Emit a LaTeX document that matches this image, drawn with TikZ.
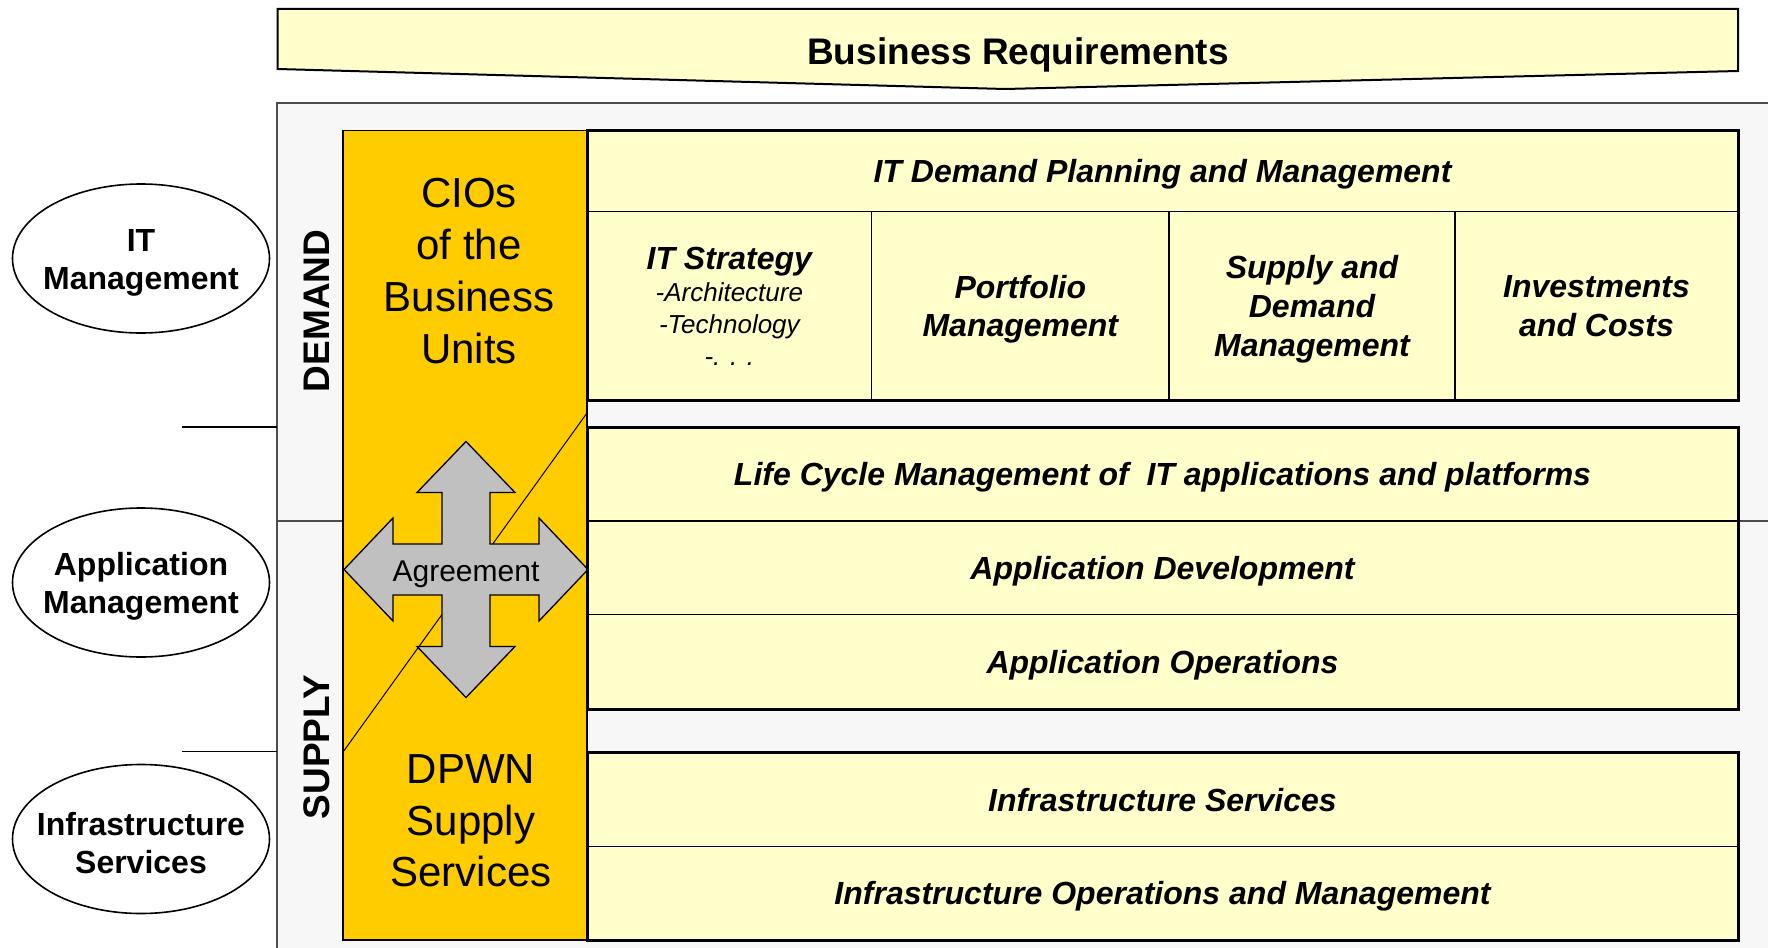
\documentclass[tikz,border=0pt]{standalone}
\usepackage{fontspec}
\setmainfont{Liberation Sans}
\definecolor{paleyellow}{HTML}{FFFFCC}
\definecolor{gold}{HTML}{FFCC00}
\definecolor{panelgray}{HTML}{F7F7F7}
\definecolor{arrowgray}{HTML}{C0C0C0}
\begin{document}
\begin{tikzpicture}[x=1pt, y=-1pt, line join=miter,
  cell/.style={draw, fill=paleyellow, line width=1.3pt, inner sep=0pt},
  lbl/.style={font=\fontsize{32}{38.6}\selectfont\bfseries\itshape, align=center, text depth=0pt},
  unittext/.style={font=\fontsize{32}{38}\selectfont\bfseries, align=center},
  unit/.style={draw, line width=1.6pt, fill=white},
  side/.style={rotate=90, font=\fontsize{37}{40}\selectfont\bfseries},
  frame/.style={draw, line width=3pt},
  panel/.style={fill=panelgray, draw=black!70, line width=1.3pt}]
\useasboundingbox (0,0) rectangle (1768,947);
\fill[white] (0,0) rectangle (1768,947);
\clip (0,0) rectangle (1768,947);
% demand / supply panels
\draw[panel] (277,103) rectangle (1800,521);
\draw[panel] (277,521) rectangle (1800,990);
\coordinate (l1) at (182,427);
\coordinate (l2) at (182,751.6);
\draw[line width=1.3pt] (l1) -- ++(95,0);
\draw[line width=1.3pt] (l2) -- ++(95,0);
% business requirements banner
\draw[fill=paleyellow, line width=2pt] (277.6,9) -- (1738,9) -- (1738,71) -- (1005,89) -- (277.6,69) -- cycle;
\node[font=\fontsize{37}{40}\selectfont\bfseries] (req) at (1018,54.5) {Business Requirements};
% management units
\coordinate (itc) at (141,258.5);
\coordinate (apc) at (141,582.5);
\coordinate (inc) at (141,839);
\foreach \c in {itc,apc,inc}
  \draw[unit] (\c) ellipse [x radius=128.5, y radius=74.5];
\node[unittext] (itm) at (141,262.5) {IT\\Management};
\node[unittext] (apm) at (141,586.5) {Application\\Management};
\node[unittext] (ins) at (141,843) {Infrastructure\\Services};
\node[side] (dem) at (317,311) {DEMAND};
\node[side] (sup) at (317,747) {SUPPLY};
% gold column
\draw[fill=gold, line width=1.2pt] (343,130.7) rectangle (587,940);
\node[font=\fontsize{42}{51.7}\selectfont, align=center] (cio) at (469,271) {CIOs\\of the\\Business\\Units};
\node[font=\fontsize{42}{51.7}\selectfont, align=center] (dpwn) at (471,821) {DPWN\\Supply\\Services};
\coordinate (dg1) at (587,413);
\coordinate (dg2) at (343.75,751);
\draw[line width=1pt] (dg1) -- (dg2);
% agreement cross
\begin{scope}[shift={(466,569.5)}]
\draw[fill=arrowgray, line width=1.3pt] (0,-128) -- (49,-77) -- (24,-77) -- (24,-25.5) -- (73,-25.5) -- (73,-51.5)
  -- (122,0) -- (73,51.5) -- (73,25.5) -- (24,25.5) -- (24,77) -- (49,77) -- (0,128) -- (-49,77) -- (-24,77)
  -- (-24,25.5) -- (-73,25.5) -- (-73,51.5) -- (-122,0) -- (-73,-51.5) -- (-73,-25.5) -- (-24,-25.5)
  -- (-24,-77) -- (-49,-77) -- cycle;
\end{scope}
\node[font=\fontsize{30}{32}\selectfont] (agr) at (466,574) {Agreement};
% IT demand planning block
\node[cell, lbl, minimum width=1151pt, minimum height=81pt] (dpm) at (1162.5,171.2) {IT Demand Planning and Management};
\node[cell, align=center, minimum width=284.7pt, minimum height=188.3pt, font=\fontsize{26}{32}\selectfont\itshape] (str) at (729.35,305.85)
  {{\fontsize{32}{32}\selectfont\bfseries IT Strategy}\\-Architecture\\-Technology\\-. . .};
\node[cell, lbl, minimum width=297.3pt, minimum height=188.3pt] (pfm) at (1020.35,305.85) {Portfolio\\Management};
\node[cell, lbl, minimum width=286pt, minimum height=188.3pt] (sdm) at (1312,305.85) {Supply and\\Demand\\Management};
\node[cell, lbl, minimum width=283pt, minimum height=188.3pt] (inv) at (1596.5,305.85) {Investments\\and Costs};
\draw[frame] (587,130.7) rectangle (1738,400);
% applications
\node[cell, lbl, minimum width=1151pt, minimum height=94pt] (lcm) at (1162.5,474) {Life Cycle Management of\ \ IT applications and platforms};
\node[cell, lbl, minimum width=1151pt, minimum height=93.4pt] (apd) at (1162.5,567.7) {Application Development};
\node[cell, lbl, minimum width=1151pt, minimum height=95.4pt] (apo) at (1162.5,662.1) {Application Operations};
\draw[frame] (587,427) rectangle (1738,709.8);
% infrastructure
\node[cell, lbl, minimum width=1151pt, minimum height=94pt] (isv) at (1162.5,799.5) {Infrastructure Services};
\node[cell, lbl, minimum width=1151pt, minimum height=93.5pt] (iom) at (1162.5,893.25) {Infrastructure Operations and Management};
\draw[frame] (587,752.5) rectangle (1738,940);
\end{tikzpicture}
\end{document}
